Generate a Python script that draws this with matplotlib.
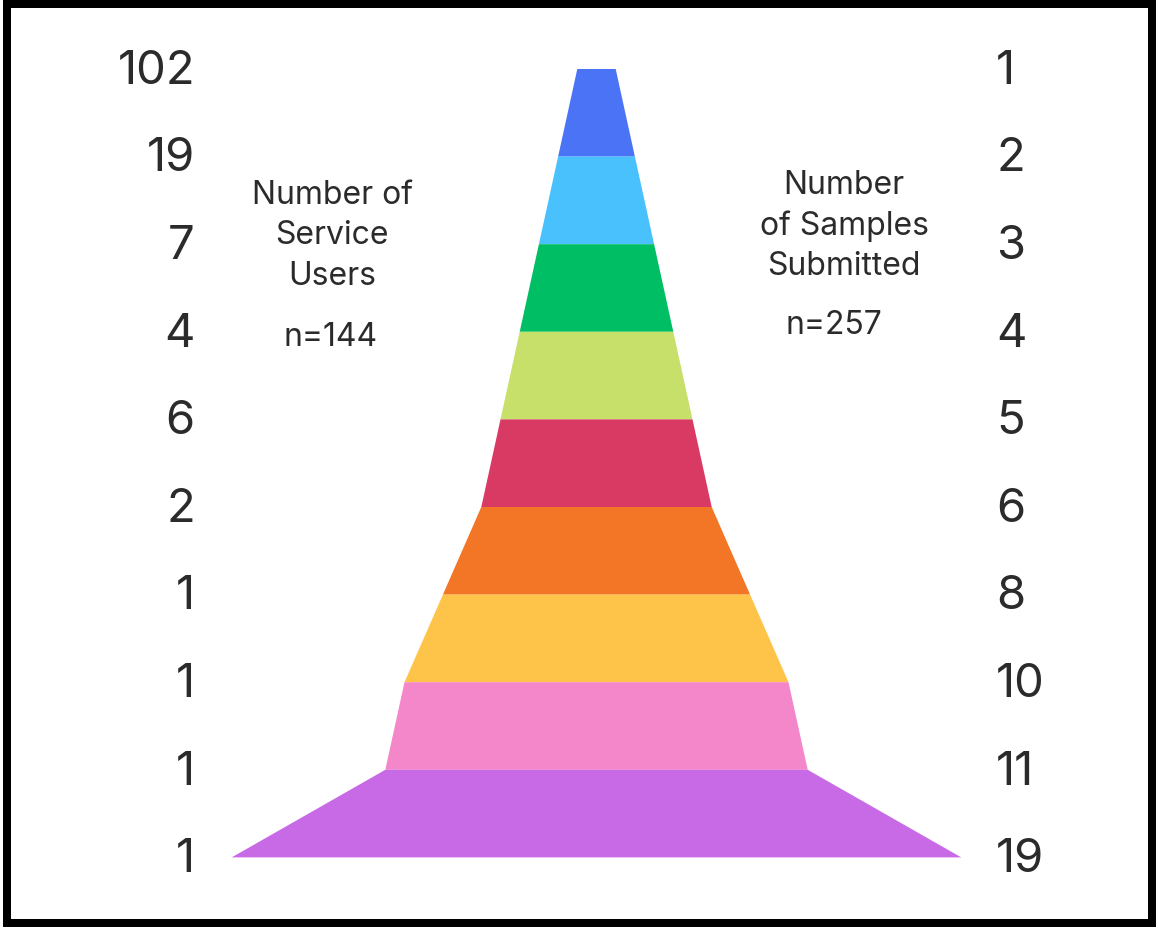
import matplotlib
matplotlib.use("Agg")
import matplotlib.pyplot as plt
from matplotlib.patches import Polygon, Rectangle

# samples submitted per person, and how many service users submitted that many
samples = [1, 2, 3, 4, 5, 6, 8, 10, 11, 19]
users = [102, 19, 7, 4, 6, 2, 1, 1, 1, 1]
band_colors = ["#4B73F6", "#48C1FD", "#00BE64", "#C6E06A", "#D93A63",
               "#F37526", "#FEC44A", "#F487C9", "#C86AE6"]
left_title = "Number of\nService\nUsers"
right_title = "Number\nof Samples\nSubmitted"
n_users = "n=144"
n_samples = "n=257"

plt.rcParams['font.family'] = ['Inter', 'DejaVu Sans']
text_color = "#2b2b2b"

W, H = 1158, 929
fig = plt.figure(figsize=(W / 100, H / 100), dpi=100)
ax = fig.add_axes([0, 0, 1, 1])

# x unit = one sample (38.4 px), y unit = one level (87.6 px)
px_x = 38.4
px_y = 87.6
cx, top = 596.5, 70
ax.set_xlim(-cx / px_x, (W - cx) / px_x)
ax.set_ylim(9 + (H - top - 9 * px_y) / px_y, -top / px_y)
ax.axis("off")

# each band is a trapezoid between two levels, width proportional to samples
for i, c in enumerate(band_colors):
    a, b = samples[i] / 2, samples[i + 1] / 2
    pts = [(-a, i), (a, i), (b, i + 1), (-b, i + 1)]
    ax.add_patch(Polygon(pts, closed=True, facecolor=c, edgecolor="none"))

# counts either side
x_left = (195 - cx) / px_x
x_right = (996 - cx) / px_x
for i, (u, s) in enumerate(zip(users, samples)):
    ax.text(x_left, i + 0.02, str(u), ha="right", va="center", fontsize=34,
            color=text_color)
    ax.text(x_right, i + 0.02, str(s), ha="left", va="center", fontsize=34,
            color=text_color)

ax.text((332 - cx) / px_x, (236 - top) / px_y, left_title, ha="center",
        va="center", fontsize=23, color=text_color, linespacing=1.4)
ax.text((331 - cx) / px_x, (337 - top) / px_y, n_users, ha="center",
        va="center", fontsize=23, color=text_color)
ax.text((844 - cx) / px_x, (226 - top) / px_y, right_title, ha="center",
        va="center", fontsize=23, color=text_color, linespacing=1.4)
ax.text((834 - cx) / px_x, (325 - top) / px_y, n_samples, ha="center",
        va="center", fontsize=23, color=text_color)

# thick black frame
fig.patches.append(Rectangle((7 / W, 5 / H), 1145 / W, 919 / H,
                             transform=fig.transFigure, fill=False,
                             edgecolor="black", linewidth=8 * 0.72))

fig.savefig("out.png", dpi=100, facecolor="white")
